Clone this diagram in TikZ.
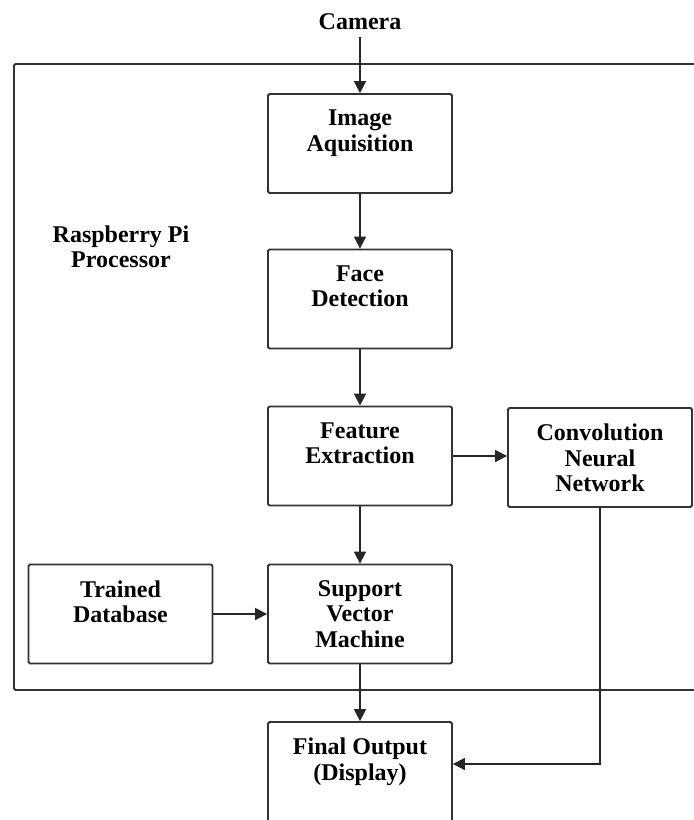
\documentclass[tikz,border=0pt]{standalone}
\usepackage{fontspec}
\setmainfont{Liberation Serif}
\usetikzlibrary{arrows.meta}
\newcommand\blkfont{\fontsize{24}{25.5}\selectfont\bfseries}
\tikzset{
  blk/.style={draw=black!80,line width=1.8pt,rounded corners=1.5pt,minimum width=184pt,minimum height=99pt,
    label={[anchor=north,align=center,inner sep=0pt,yshift=-16.6pt,font=\blkfont]north:#1}},
  arr/.style={draw=black!85,line width=1.7pt,-{Triangle[length=12pt,width=12pt]}},
}

\begin{document}
\begin{tikzpicture}[x=1pt,y=-1pt]
\clip (0,0) rectangle (694,820);
\draw[draw=black!80,line width=1.8pt,rounded corners=1.5pt] (14,64) rectangle (720,690);
\node[font=\blkfont,anchor=base] (cam) at (360,29) {Camera};
\node[font=\blkfont,align=center,anchor=north,inner sep=0pt] (rpi) at (121,225.2) {Raspberry Pi\\Processor};
\node[blk={Image\\Aquisition}] (ia) at (360,143.5) {};
\node[blk={Face\\Detection}] (fd) at (360,299) {};
\node[blk={Feature\\Extraction}] (fe) at (360,456) {};
\node[blk={Convolution\\Neural\\Network}] (cnn) at (600,457.5) {};
\node[blk={Support\\Vector\\Machine}] (svm) at (360,614) {};
\node[blk={Trained\\Database}] (db) at (120.5,614) {};
\node[blk={Final Output\\(Display)},minimum height=106pt] (out) at (360,775) {};
\draw[arr,shorten <=4pt] (cam) -- (ia);
\draw[arr] (ia) -- (fd);
\draw[arr] (fd) -- (fe);
\draw[arr] (fe) -- (fe.east -| cnn.west);
\draw[arr] (fe) -- (svm);
\draw[arr] (db) -- (svm);
\draw[arr] (svm) -- (out);
\draw[arr] (cnn.south) |- ([yshift=11pt]out.east);
\end{tikzpicture}
\end{document}
